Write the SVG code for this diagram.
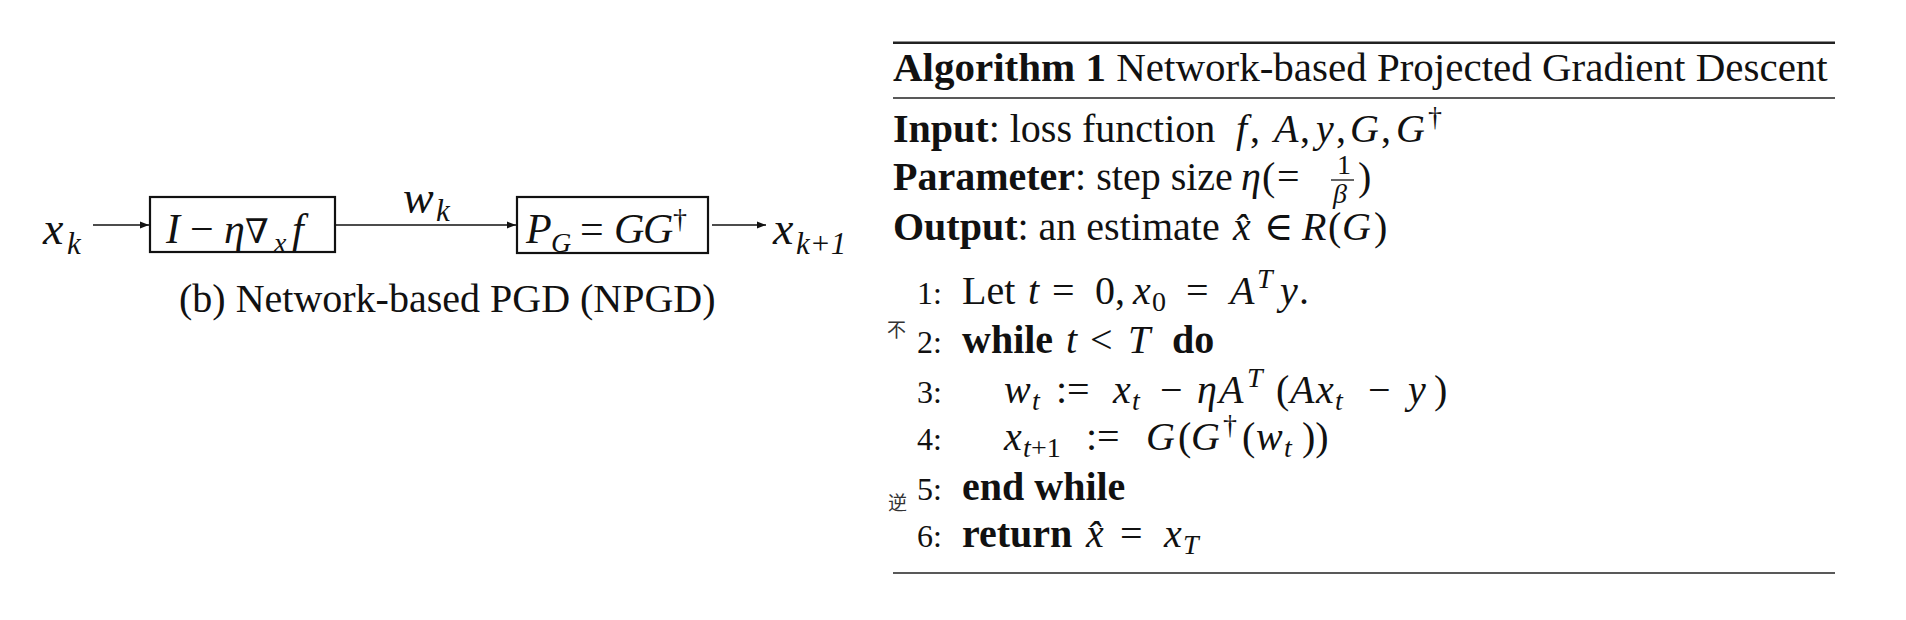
<svg xmlns="http://www.w3.org/2000/svg" width="1906" height="620" viewBox="0 0 1906 620">
<defs>
<marker id="ah" markerUnits="userSpaceOnUse" markerWidth="10" markerHeight="8" refX="9" refY="4" orient="auto">
<path d="M0,0.5 L9,4 L0,7.5 z" fill="#111"/>
</marker>
</defs>
<style>
text{font-family:"Liberation Serif","DejaVu Serif",serif;fill:#111}
.m{font-style:italic}
.u{font-style:normal}
.b{font-weight:bold}
.big{font-size:46px}
.bx{font-size:42px}
.sub{font-size:31px}
.t{font-size:40px}
.n{font-size:32px}
.s{font-size:28px}
.box{fill:#fff;stroke:#111;stroke-width:2.2}
.conn{stroke:#111;stroke-width:1.4;fill:none}
.rule{stroke:#222}
.cjk{font-family:"Noto Sans CJK SC",sans-serif;font-size:19px;fill:#333}
</style>
<rect width="1906" height="620" fill="#fff"/>

<g id="connectors">
<line class="conn" x1="93" y1="225" x2="149" y2="225" marker-end="url(#ah)"/>
<line class="conn" x1="336" y1="225" x2="516" y2="225" marker-end="url(#ah)"/>
<line class="conn" x1="712" y1="225" x2="766" y2="225" marker-end="url(#ah)"/>
</g>

<g id="node-xk">
<text class="big m" y="244"><tspan x="43">x</tspan><tspan class="sub" x="67" y="254">k</tspan></text>
</g>

<g id="node-grad">
<rect class="box" x="150" y="197" width="185" height="55"/>
<text class="bx m" y="243"><tspan x="166">I</tspan><tspan class="u" x="190">−</tspan><tspan x="224">η</tspan><tspan class="u" x="245" style="font-size:34px">∇</tspan><tspan class="s" x="274" y="252">x</tspan><tspan x="292" y="243">f</tspan></text>
</g>

<g id="label-wk">
<text class="big m" y="213"><tspan x="403">w</tspan><tspan class="sub" x="436" y="221">k</tspan></text>
</g>

<g id="node-proj">
<rect class="box" x="517" y="197" width="191" height="56"/>
<text class="bx m" y="243"><tspan x="526">P</tspan><tspan class="s" x="551" y="252">G</tspan><tspan class="u" x="580" y="243">=</tspan><tspan x="614">G</tspan><tspan x="643">G</tspan><tspan class="u s" x="673" y="228">†</tspan></text>
</g>

<g id="node-xk1">
<text class="big m" y="244"><tspan x="773">x</tspan><tspan class="sub" x="796" y="254">k+1</tspan></text>
</g>

<text id="caption" x="179" y="312" style="font-size:40px">(b) Network-based PGD (NPGD)</text>

<g id="algorithm">
<line class="rule" x1="893" y1="42.7" x2="1835" y2="42.7" stroke-width="2.6"/>
<text x="893" y="81" style="font-size:41px"><tspan class="b">Algorithm 1</tspan> Network-based Projected Gradient Descent</text>
<line class="rule" x1="893" y1="98" x2="1835" y2="98" stroke-width="1.4"/>

<text class="t" x="893" y="142"><tspan class="b">Input</tspan>: loss function<tspan class="m" x="1236">f</tspan><tspan x="1250">,</tspan><tspan class="m" x="1274">A</tspan><tspan x="1300">,</tspan><tspan class="m" x="1316">y</tspan><tspan x="1336">,</tspan><tspan class="m" x="1350">G</tspan><tspan x="1381">,</tspan><tspan class="m" x="1396">G</tspan><tspan class="s" x="1428" y="126">†</tspan></text>

<text class="t" x="893" y="190"><tspan class="b">Parameter</tspan>: step size<tspan class="m" x="1241">η</tspan><tspan x="1262">(</tspan><tspan x="1277">=</tspan><tspan x="1358">)</tspan></text>
<text class="s" x="1337" y="174">1</text>
<line x1="1331" y1="180" x2="1354" y2="180" stroke="#111" stroke-width="1.3"/>
<text class="s m" x="1333" y="203">β</text>

<text class="t" x="893" y="240"><tspan class="b">Output</tspan>: an estimate<tspan class="m" x="1233">x̂</tspan><tspan x="1264">∈</tspan><tspan class="m" x="1302">R</tspan><tspan x="1328">(</tspan><tspan class="m" x="1342">G</tspan><tspan x="1374">)</tspan></text>

<text class="n" x="917" y="304">1:</text>
<text class="t" y="304"><tspan x="962">Let</tspan><tspan class="m" x="1028">t</tspan><tspan x="1052">=</tspan><tspan x="1095">0,</tspan><tspan class="m" x="1133">x</tspan><tspan class="s" x="1152" y="311">0</tspan><tspan x="1186" y="304">=</tspan><tspan class="m" x="1230">A</tspan><tspan class="s m" x="1257" y="288">T</tspan><tspan class="m" x="1280" y="304">y</tspan><tspan x="1299">.</tspan></text>

<text class="n" x="917" y="353">2:</text>
<text class="t" y="353"><tspan class="b" x="962">while</tspan><tspan class="m" x="1066">t</tspan><tspan x="1090">&lt;</tspan><tspan class="m" x="1128">T</tspan><tspan class="b" x="1172">do</tspan></text>

<text class="n" x="917" y="403">3:</text>
<text class="t" y="403"><tspan class="m" x="1004">w</tspan><tspan class="s m" x="1032" y="410">t</tspan><tspan x="1056" y="403">:=</tspan><tspan class="m" x="1113">x</tspan><tspan class="s m" x="1132" y="410">t</tspan><tspan x="1160" y="403">−</tspan><tspan class="m" x="1197">η</tspan><tspan class="m" x="1219">A</tspan><tspan class="s m" x="1247" y="387">T</tspan><tspan x="1276" y="403">(</tspan><tspan class="m" x="1290">A</tspan><tspan class="m" x="1316">x</tspan><tspan class="s m" x="1335" y="410">t</tspan><tspan x="1368" y="403">−</tspan><tspan class="m" x="1408">y</tspan><tspan x="1434">)</tspan></text>

<text class="n" x="917" y="450">4:</text>
<text class="t" y="450"><tspan class="m" x="1004">x</tspan><tspan class="s m" x="1023" y="457">t</tspan><tspan class="s" x="1031" y="457">+1</tspan><tspan x="1086" y="450">:=</tspan><tspan class="m" x="1146">G</tspan><tspan x="1178">(</tspan><tspan class="m" x="1191">G</tspan><tspan class="s" x="1223" y="434">†</tspan><tspan x="1242" y="450">(</tspan><tspan class="m" x="1256">w</tspan><tspan class="s m" x="1284" y="457">t</tspan><tspan x="1302" y="450">))</tspan></text>

<text class="n" x="917" y="500">5:</text>
<text class="t b" x="962" y="500">end while</text>

<text class="n" x="917" y="547">6:</text>
<text class="t" y="547"><tspan class="b" x="962">return</tspan><tspan class="m" x="1086">x̂</tspan><tspan x="1120">=</tspan><tspan class="m" x="1164">x</tspan><tspan class="s m" x="1183" y="554">T</tspan></text>

<line class="rule" x1="893" y1="573" x2="1835" y2="573" stroke-width="1.6"/>
</g>

<g id="overlay-chars">
<text class="cjk" x="887" y="337">不</text>
<text class="cjk" x="888" y="510">逆</text>
</g>
</svg>
